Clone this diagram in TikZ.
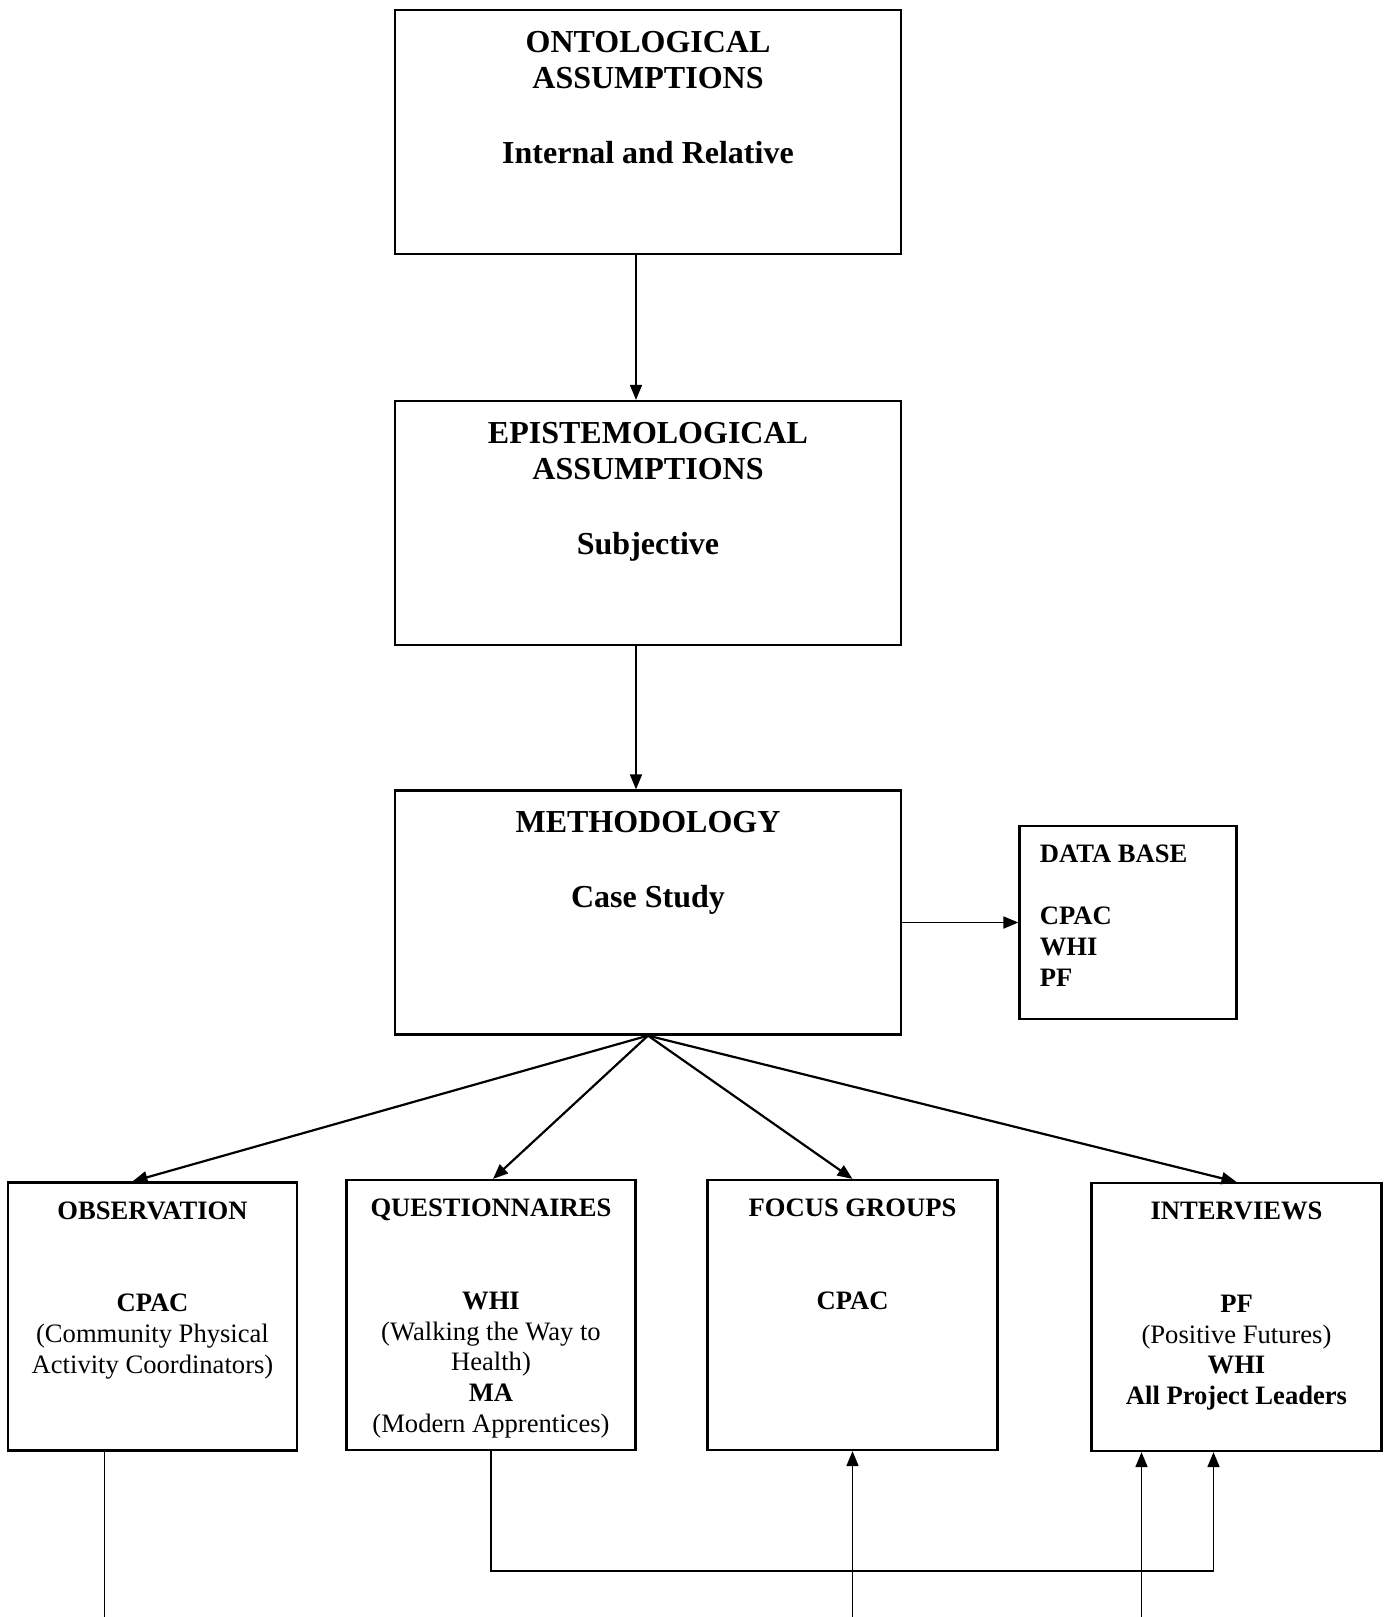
\documentclass[tikz,border=0pt]{standalone}
\usepackage{fontspec}
\setmainfont{Liberation Serif}
\usetikzlibrary{positioning,arrows.meta}

\begin{document}
\begin{tikzpicture}[x=0.5pt, y=-0.5pt,
	bigbox/.style={draw, line width=1.1pt, minimum width=253pt, minimum height=122pt},
	smallbox/.style={draw, line width=1.1pt, minimum width=144.5pt, minimum height=134pt},
	big/.style={inner sep=0pt, align=center, font=\fontsize{16}{18}\selectfont\bfseries},
	small/.style={inner sep=0pt, align=center, font=\fontsize{13.3}{15.4}\selectfont\bfseries},
	a/.style={-{Triangle[length=7.5pt,width=6pt]}, line width=0.85pt}]
		\useasboundingbox (0,0) rectangle (1389,1617);
		\coordinate (bottom) at (0,1617);

		\node[bigbox] (O) at (648,132) {};
		\node[big, below=11pt of O.north] (O_label) {ONTOLOGICAL\\ASSUMPTIONS\\[19.5pt]Internal and Relative};
		\node[bigbox] (E) at (648,523) {};
		\node[big, below=11pt of E.north] (E_label) {EPISTEMOLOGICAL\\ASSUMPTIONS\\[19.5pt]Subjective};
		\node[bigbox] (M) at (648,912.5) {};
		\node[big, below=11pt of M.north] (M_label) {METHODOLOGY\\[19.5pt]Case Study};
		\node[draw, line width=1.1pt, minimum width=108.5pt, minimum height=96.5pt] (D) at (1128,922.5) {};
		\node[small, align=left, below right=10pt and 10.5pt of D.north west] (D_label) {DATA BASE\\[15.4pt]CPAC\\WHI\\PF};

		\node[smallbox] (Ob) at (152.5,1316.5) {};
		\node[small, below=10pt of Ob.north] (Ob_label) {OBSERVATION\\[30.8pt]CPAC\\\mdseries(Community Physical\\\mdseries Activity Coordinators)};
		\node[smallbox, minimum height=135pt] (Q) at (491,1315) {};
		\node[small, below=10pt of Q.north] (Q_label) {QUESTIONNAIRES\\[30.8pt]WHI\\\mdseries(Walking the Way to\\\mdseries Health)\\MA\\\mdseries(Modern Apprentices)};
		\node[smallbox, minimum width=145pt, minimum height=135pt] (F) at (852.5,1315) {};
		\node[small, below=10pt of F.north] (F_label) {FOCUS GROUPS\\[30.8pt]CPAC};
		\node[smallbox, minimum width=145pt] (I) at (1236.5,1317) {};
		\node[small, below=10pt of I.north] (I_label) {INTERVIEWS\\[30.8pt]PF\\\mdseries(Positive Futures)\\WHI\\All Project Leaders};

		\draw[a] ([xshift=-6pt]O.south) -- ([xshift=-6pt]E.north);
		\draw[a] ([xshift=-6pt]E.south) -- ([xshift=-6pt]M.north);
		\draw[a] (M.east |- D.west) -- (D.west);

		\draw[a, line width=1.1pt] (M.south) -- ([xshift=-10pt]Ob.north);
		\draw[a, line width=1.1pt] (M.south) -- ([xshift=1pt]Q.north);
		\draw[a, line width=1.1pt] (M.south) -- (F.north);
		\draw[a, line width=1.1pt] (M.south) -- (I.north);

		\draw[line width=0.85pt] ([xshift=-24pt]Ob.south) -- ([xshift=-24pt]Ob.south |- bottom);
		\draw[a] (Q.south) -- ++(0,120) -| ([xshift=-11.5pt]I.south);
		\draw[a] (F.south |- bottom) -- (F.south);
		\draw[a] ([xshift=-47.5pt]I.south |- bottom) -- ([xshift=-47.5pt]I.south);
	\end{tikzpicture}
\end{document}
